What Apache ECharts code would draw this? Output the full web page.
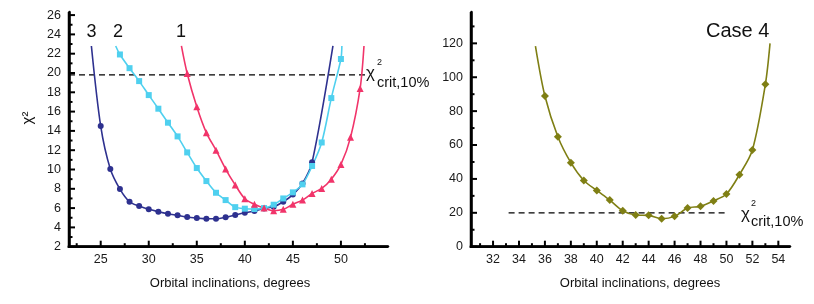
<!DOCTYPE html>
<html><head><meta charset="utf-8">
<script src="https://cdn.jsdelivr.net/npm/echarts@6/dist/echarts.min.js"></script>
<style>
html,body{margin:0;padding:0;background:#fff}
#wrap{position:relative;width:814px;height:304px;background:#fff}
#left{position:absolute;left:0;top:0;width:437px;height:304px}
#right{position:absolute;left:437px;top:0;width:377px;height:304px}
#frame{position:absolute;left:0;top:0;width:814px;height:304px;z-index:5;pointer-events:none}
</style>
</head><body><div id="wrap"><div id="left"></div><div id="right"></div>
<svg id="frame" width="814" height="304" viewBox="0 0 814 304" xmlns="http://www.w3.org/2000/svg"></svg></div>
<script>
const FONT = '"Liberation Sans", Arial, sans-serif';

// ---- Left panel: cases 1, 2, 3 ----
const leftXLabels = [25, 30, 35, 40, 45, 50];
const leftXMinor = [22.5, 27.5, 32.5, 37.5, 42.5, 47.5, 52.5];
const leftYLabels = [2, 4, 6, 8, 10, 12, 14, 16, 18, 20, 22, 24, 26];
const leftYMinor = [3, 5, 7, 9, 11, 13, 15, 17, 19, 21, 23, 25];

const case3X = [25, 26, 27, 28, 29, 30, 31, 32, 33, 34, 35, 36, 37, 38, 39, 40, 41, 42, 43, 44, 45, 46, 47];
const case3Y = [14.5, 10.05, 7.97, 6.66, 6.21, 5.87, 5.63, 5.42, 5.25, 5.07, 4.97, 4.9, 4.9, 5.04, 5.28, 5.52, 5.7, 5.97, 6.14, 6.66, 7.4, 8.56, 10.74];
const case3Start = [24.03, 22.8];
const case3End = [49.17, 22.8];

const case2X = [27, 28, 29, 30, 31, 32, 33, 34, 35, 36, 37, 38, 39, 40, 41, 42, 43, 44, 45, 46, 47, 48, 49, 50];
const case2Y = [21.92, 20.5, 19.16, 17.71, 16.3, 14.85, 13.43, 11.77, 10.15, 8.8, 7.59, 6.83, 6.1, 5.94, 5.9, 6.0, 6.35, 7.0, 7.63, 8.46, 10.36, 12.8, 17.4, 21.45];
const case2Start = [26.56, 22.8];
const case2End = [50.1, 22.8];

const case1X = [34, 35, 36, 37, 38, 39, 40, 41, 42, 43, 44, 45, 46, 47, 48, 49, 50, 51, 52];
const case1Y = [19.95, 16.5, 13.8, 12.0, 10.05, 8.4, 6.97, 6.4, 6.0, 5.73, 5.87, 6.4, 6.83, 7.52, 8.04, 9.0, 10.53, 13.33, 18.4];
const case1Start = [33.4, 22.8];
const case1End = [52.4, 22.8];

const leftCrit = 19.8;
const leftCritFrom = 21.7;
const leftCritTo = 52.6;

// ---- Right panel: case 4 ----
const rightXLabels = [32, 34, 36, 38, 40, 42, 44, 46, 48, 50, 52, 54];
const rightXMinor = [31, 33, 35, 37, 39, 41, 43, 45, 47, 49, 51, 53];
const rightYLabels = [0, 20, 40, 60, 80, 100, 120];
const rightYMinor = [10, 30, 50, 70, 90, 110, 130];

const case4X = [36, 37, 38, 39, 40, 41, 42, 43, 44, 45, 46, 47, 48, 49, 50, 51, 52, 53];
const case4Y = [88.9, 64.9, 49.6, 39.1, 33.2, 27.5, 21.2, 18.7, 18.5, 16.5, 17.9, 22.8, 23.8, 27.0, 31.1, 42.5, 57.1, 95.8];
const case4Start = [35.27, 118.4];
const case4End = [53.36, 120];

const rightCrit = 20;
const rightCritFrom = 33.2;
const rightCritTo = 49.9;

function curveData(start, xs, ys, end) {
  const d = [{ value: start, symbol: 'none' }];
  xs.forEach((x, i) => d.push({ value: [x, ys[i]] }));
  d.push({ value: end, symbol: 'none' });
  return d;
}

function axis(dim, min, max, vals) {
  return {
    type: 'value', min: min, max: max,
    position: dim === 'x' ? 'bottom' : 'left',
    splitLine: { show: false },
    axisLine: { show: true, onZero: false, lineStyle: { color: '#000', width: 2.5 } },
    axisTick: { show: false },
    axisLabel: { show: true, customValues: vals, margin: dim === 'x' ? 6 : 8, fontSize: 12.5, fontFamily: FONT, color: '#1a1a1a' }
  };
}

function lineSeries(data, color, symbol, size) {
  return {
    type: 'line', data: data,
    smooth: 0.3, symbol: symbol, symbolSize: size, showSymbol: true,
    lineStyle: { color: color, width: 1.6 }, itemStyle: { color: color },
    z: 3, animation: false
  };
}
function critSeries(from, to, y) {
  return {
    type: 'line', data: [[from, y], [to, y]], symbol: 'none',
    lineStyle: { color: '#000', width: 1.3, type: [6, 4] }, z: 2, animation: false
  };
}

function txt(x, y, text, size, extra) {
  return {
    type: 'text', x: x, y: y, z: 10,
    style: Object.assign({ text: text, fontSize: size, fontFamily: FONT, fill: '#111', verticalAlign: 'middle', align: 'left' }, extra || {})
  };
}

// Axis frame and inward ticks on an overlay, placed with the same linear
// scale the grid uses (grid box + axis min/max).
const svg = document.getElementById('frame');
function seg(x1, y1, x2, y2, w) {
  const l = document.createElementNS('http://www.w3.org/2000/svg', 'line');
  l.setAttribute('x1', x1.toFixed(2)); l.setAttribute('y1', y1.toFixed(2));
  l.setAttribute('x2', x2.toFixed(2)); l.setAttribute('y2', y2.toFixed(2));
  l.setAttribute('stroke', '#000'); l.setAttribute('stroke-width', w);
  svg.appendChild(l);
}
function frame(offX, grid, xr, yr, xMajor, xMinor, yMajor, yMinor) {
  const sx = x => offX + grid.left + (x - xr[0]) / (xr[1] - xr[0]) * grid.width;
  const sy = y => grid.top + grid.height - (y - yr[0]) / (yr[1] - yr[0]) * grid.height;
  const x0 = sx(xr[0]), x1 = sx(xr[1]), y0 = sy(yr[0]), y1 = sy(yr[1]);
  seg(x0 - 1.25, y0, x1, y0, 2.5);
  seg(x0, y0 + 1.25, x0, y1, 2.5);
  xMajor.forEach(v => seg(sx(v), y0, sx(v), y0 - 6, 2));
  xMinor.forEach(v => seg(sx(v), y0, sx(v), y0 - 3.5, 2));
  yMajor.forEach(v => seg(x0, sy(v), x0 + 6, sy(v), 2));
  yMinor.forEach(v => seg(x0, sy(v), x0 + 3.5, sy(v), 2));
}

const LX = [21.7, 54.9], LY = [2, 26.32];
const LG = { left: 69, top: 12, width: 319, height: 234.7 };
const RX = [30.3, 54.9], RY = [0, 138.5];
const RG = { left: 34, top: 12, width: 319, height: 234.7 };

frame(0, LG, LX, LY, leftXLabels, leftXMinor, leftYLabels, leftYMinor);
frame(437, RG, RX, RY, rightXLabels, rightXMinor, rightYLabels, rightYMinor);

const left = echarts.init(document.getElementById('left'));
left.setOption({
  animation: false,
  grid: LG,
  xAxis: axis('x', LX[0], LX[1], leftXLabels),
  yAxis: axis('y', LY[0], LY[1], leftYLabels),
  series: [
    critSeries(leftCritFrom, leftCritTo, leftCrit),
    lineSeries(curveData(case3Start, case3X, case3Y, case3End), '#2e318f', 'circle', 6),
    lineSeries(curveData(case2Start, case2X, case2Y, case2End), '#4fd0ef', 'rect', 6),
    lineSeries(curveData(case1Start, case1X, case1Y, case1End), '#f1346a', 'triangle', 7)
  ],
  graphic: [
    txt(86.5, 32, '3', 18),
    txt(113, 32, '2', 18),
    txt(176, 32, '1', 18),
    { type: 'text', x: 28, y: 118, rotation: Math.PI / 2, z: 10,
      style: { text: 'χ²', fontSize: 15, fontFamily: FONT, fill: '#111', align: 'center', verticalAlign: 'middle' } },
    txt(366, 73, 'χ', 17),
    txt(377, 63, '2', 9),
    txt(377, 83, 'crit,10%', 14.5),
    txt(230, 283, 'Orbital inclinations, degrees', 13, { align: 'center' })
  ]
});

const right = echarts.init(document.getElementById('right'));
right.setOption({
  animation: false,
  grid: RG,
  xAxis: axis('x', RX[0], RX[1], rightXLabels),
  yAxis: axis('y', RY[0], RY[1], rightYLabels),
  series: [
    critSeries(rightCritFrom, rightCritTo, rightCrit),
    lineSeries(curveData(case4Start, case4X, case4Y, case4End), '#7f7f14', 'diamond', 8)
  ],
  graphic: [
    txt(269, 31, 'Case 4', 20),
    txt(304, 214, 'χ', 17),
    txt(314, 204, '2', 9),
    txt(314, 222, 'crit,10%', 14.5),
    txt(203, 283, 'Orbital inclinations, degrees', 13, { align: 'center' })
  ]
});
</script>
</body></html>
